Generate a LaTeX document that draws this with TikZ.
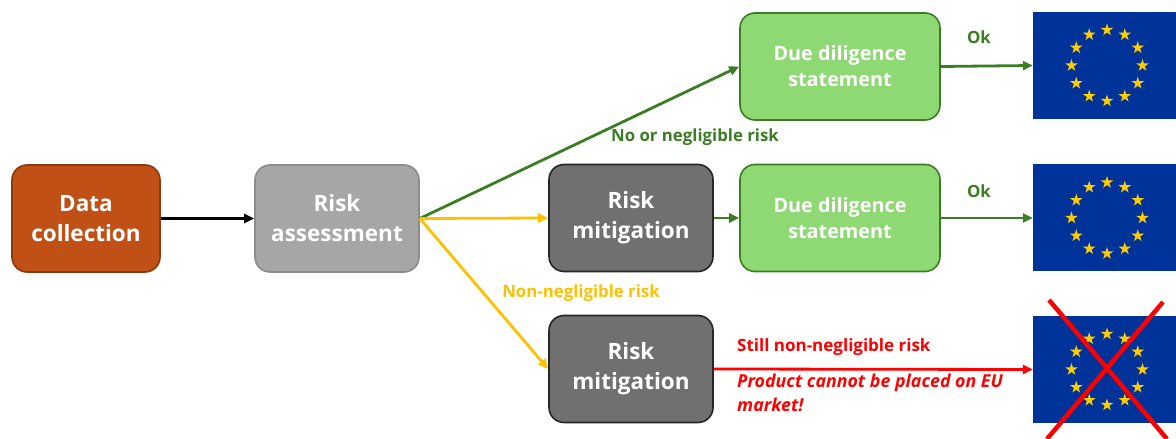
\documentclass[tikz,border=0pt]{standalone}
\usepackage{fontspec}
\setmainfont{Open Sans}
\usetikzlibrary{arrows.meta,shapes.geometric,calc}
\definecolor{dcfill}{HTML}{C05016}
\definecolor{dcdraw}{HTML}{8B3A10}
\definecolor{rafill}{HTML}{A6A6A6}
\definecolor{radraw}{HTML}{8C8C8C}
\definecolor{rmfill}{HTML}{707070}
\definecolor{rmdraw}{HTML}{262626}
\definecolor{ddfill}{HTML}{8ED973}
\definecolor{ddgreen}{HTML}{3B7D23}
\definecolor{yel}{HTML}{FFC000}
\definecolor{eured}{HTML}{FF0000}
\definecolor{eublue}{HTML}{003399}
\definecolor{eustar}{HTML}{FFCC00}
\tikzset{
  x=1pt,y=1pt,
  boxstyle/.style={rounded corners=15pt, line width=1.6pt, align=center, text=white,
     font=\fontsize{22.5}{30}\selectfont\bfseries, inner sep=0pt, minimum height=107pt},
  dcbox/.style={boxstyle, fill=dcfill, draw=dcdraw, minimum width=148pt},
  rabox/.style={boxstyle, fill=rafill, draw=radraw, minimum width=164pt},
  rmbox/.style={boxstyle, fill=rmfill, draw=rmdraw, minimum width=164pt},
  ddbox/.style={boxstyle, fill=ddfill, draw=ddgreen, minimum width=200pt, font=\fontsize{19.8}{26}\selectfont\bfseries},
  flagbox/.style={fill=eublue, minimum width=148pt, minimum height=107pt, inner sep=0pt, draw=none},
  eustarshape/.style={star, star points=5, star point ratio=2.618, fill=eustar, draw=none, minimum size=13pt, inner sep=0pt},
  conn/.style={line width=2.8pt, -{Triangle[length=10pt,width=9pt]}},
  lbl/.style={font=\fontsize{16.8}{20}\selectfont\bfseries, inner sep=0pt},
}
\begin{document}
\begin{tikzpicture}
\useasboundingbox (0,0) rectangle (1176,439);
\clip (0,0) rectangle (1176,439);

\node[dcbox] (dc) at (86,220.5) {Data\\collection};
\node[rabox] (ra) at (337,220.5) {Risk\\assessment};
\node[ddbox] (dd1) at (840,372.5) {Due diligence\\statement};
\node[rmbox] (rm1) at (631,221) {Risk\\mitigation};
\node[ddbox] (dd2) at (840,221) {Due diligence\\statement};
\node[rmbox] (rm2) at (631,70) {Risk\\mitigation};

\node[flagbox] (f1) at (1107,373.5) {};
\node[flagbox] (f2) at (1107,221) {};
\node[flagbox] (f3) at (1107,69.5) {};
\foreach \f in {f1,f2,f3}{
  \foreach \a in {0,30,...,330}{
    \node[eustarshape] at ($(\f.center)+(\a:35.5)$) {};
  }
}

\draw[conn, black] (dc.east) -- (ra.west);
\draw[conn, ddgreen] (ra.east) -- (dd1.west);
\draw[conn, yel] (ra.east) -- (rm1.west);
\draw[conn, yel] (ra.east) -- (rm2.west);
\draw[conn, ddgreen] (rm1.east) -- (dd2.west);
\draw[conn, ddgreen] (dd1.east) -- (f1.west);
\draw[conn, ddgreen] (dd2.east) -- (f2.west);
\draw[conn, eured] (rm2.east) -- (f3.west);

\node[lbl, text=ddgreen] (ok1) at (979,402) {Ok};
\node[lbl, text=ddgreen] (ok2) at (979,248) {Ok};
\node[lbl, text=ddgreen] (nrisk) at (695,302) {No or negligible risk};
\node[lbl, text=yel] (nnrisk) at (581,146) {Non-negligible risk};
\node[lbl, text=eured, anchor=west, font=\fontsize{17}{20}\selectfont\bfseries] (still) at (737,92) {Still non-negligible risk};
\node[lbl, text=eured, anchor=north west, align=left, font=\fontsize{17.8}{24}\selectfont\bfseries\itshape] (prod) at (737,65) {Product cannot be placed on EU\\market!};

\coordinate (xa) at (1049,139);
\coordinate (xb) at (1167,0);
\coordinate (xc) at (1163,137);
\coordinate (xd) at (1047,0);
\draw[eured, line width=4.5pt] (xa) -- (xb);
\draw[eured, line width=4.5pt] (xc) -- (xd);
\end{tikzpicture}
\end{document}
